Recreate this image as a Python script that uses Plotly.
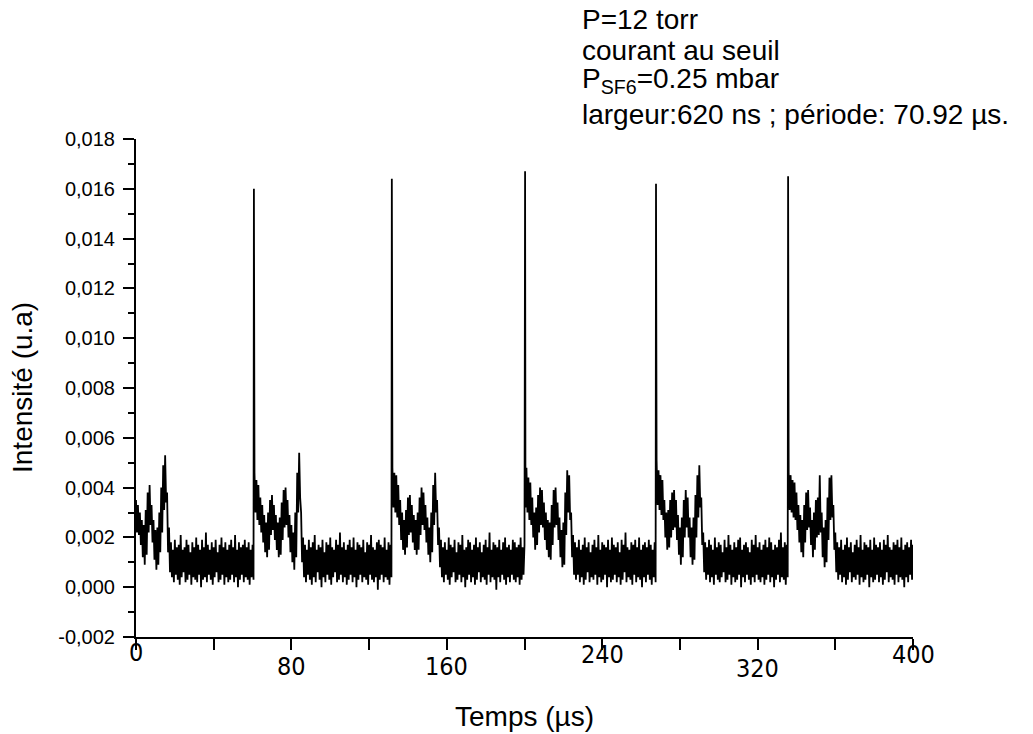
import plotly.graph_objects as go

# ---------------- data ----------------
# Signal sampled every 1 µs: upper / lower edge of the noisy trace, in units of 1e-4 (u.a)
sample_times = list(range(0, 401))

seg0_upper = [35, 33, 30, 27, 25, 31, 38, 41, 33, 27, 23, 24, 30, 40, 49, 53, 38, 24]            # t 0-17
seg0_lower = [22, 21, 17, 12, 9, 13, 22, 25, 18, 11, 7, 9, 14, 22, 31, 34, 14, 6]

base1_upper = [18, 15, 19, 16, 17, 21, 15, 16, 19, 17, 14, 18, 16, 20, 17, 15, 19, 16, 22, 17,
               15, 18, 16, 19, 14, 17, 20, 16, 18, 15, 17, 19, 16, 21, 15, 18, 16, 17, 19, 16,
               18, 15, 17]                                                                       # t 18-60
base1_lower = [4, 2, 5, 3, 1, 4, 6, 2, 3, 5, 1, 4, 3, 2, 5, 0, 3, 4, 2, 5,
               3, 1, 4, 6, 2, 3, 5, 1, 4, 2, 3, 5, 2, 4, 0, 3, 5, 2, 4, 3,
               1, 4, 3]

pulse1_upper = [46, 43, 41, 36, 33, 29, 26, 30, 35, 37, 33, 29, 26, 28, 34, 39, 40, 35, 29, 25,
                22, 30, 46, 54, 30]                                                              # t 61-85
pulse1_lower = [30, 27, 25, 22, 18, 14, 12, 15, 21, 23, 19, 15, 12, 13, 19, 24, 25, 20, 14, 10,
                7, 12, 30, 36, 10]

base2_upper = [20, 17, 15, 19, 16, 18, 21, 15, 17, 16, 19, 14, 18, 17, 20, 16, 15, 19, 17, 22,
               16, 18, 15, 17, 19, 16, 20, 15, 18, 17, 16, 19, 14, 18, 17, 21, 16, 15, 18, 19,
               17, 16, 20, 15, 18, 17]                                                           # t 86-131
base2_lower = [4, 2, 5, 3, 1, 4, 2, 6, 3, 0, 4, 2, 5, 3, 1, 4, 6, 2, 3, 5,
               2, 4, 1, 3, 5, 2, 4, 0, 3, 5, 2, 4, 3, 1, 5, 3, 2, 4, -1, 3,
               5, 2, 4, 3, 1, 4]

pulse2_upper = [48, 46, 45, 41, 35, 30, 27, 31, 36, 37, 33, 29, 27, 30, 36, 40, 38, 33, 28, 24,
                30, 41, 46, 35, 24]                                                              # t 132-156
pulse2_lower = [32, 30, 28, 25, 19, 15, 13, 16, 21, 22, 18, 15, 13, 15, 21, 25, 23, 18, 13, 10,
                14, 25, 30, 17, 8]

base3_upper = [19, 16, 18, 15, 20, 17, 16, 19, 14, 18, 17, 21, 15, 16, 19, 18, 15, 17, 20, 16,
               18, 14, 17, 19, 16, 22, 15, 18, 17, 16, 19, 15, 18, 20, 16, 17, 15, 19, 18, 16,
               17, 20, 16]                                                                       # t 157-199
base3_lower = [4, 2, 5, 3, 1, 4, 6, 2, 3, 5, 2, 4, 0, 3, 5, 2, 4, 1, 3, 6,
               2, 4, 3, 1, 5, 2, 4, 3, -1, 4, 2, 5, 3, 1, 4, 2, 5, 3, 2, 4,
               1, 3, 5]

pulse3_upper = [17, 48, 44, 42, 36, 30, 32, 37, 40, 39, 34, 30, 27, 26, 33, 39, 40, 34, 28, 23,
                26, 38, 47, 45, 30, 21]                                                          # t 200-225
pulse3_lower = [32, 30, 27, 25, 20, 15, 17, 22, 25, 24, 19, 15, 12, 11, 17, 24, 25, 19, 12, 8,
                9, 21, 30, 27, 12, 5]

base4_upper = [18, 16, 19, 15, 17, 20, 16, 18, 14, 17, 19, 16, 21, 15, 18, 17, 16, 19, 15, 20,
               17, 16, 18, 14, 19, 17, 22, 16, 15, 18, 17, 19, 16, 20, 15, 17, 18, 16, 19, 17,
               15, 18]                                                                           # t 226-267
base4_lower = [3, 5, 2, 4, 1, 3, 6, 2, 4, 3, 5, 1, 4, 2, 3, 5, 0, 4, 2, 3,
               5, 2, 4, 1, 3, 6, 2, 4, 3, 1, 5, 2, 4, 3, 0, 4, 2, 5, 3, 1,
               4, 2]

pulse4_upper = [51, 47, 45, 43, 35, 30, 31, 35, 38, 39, 35, 29, 24, 28, 35, 39, 36, 28, 24, 28,
                37, 45, 49, 36, 22]                                                              # t 268-292
pulse4_lower = [33, 31, 29, 27, 20, 15, 16, 20, 23, 24, 19, 13, 9, 12, 20, 24, 20, 12, 9, 11,
                20, 28, 32, 17, 6]

base5_upper = [18, 16, 19, 17, 15, 20, 16, 18, 17, 14, 19, 16, 21, 17, 15, 18, 16, 19, 20, 15,
               17, 18, 16, 14, 19, 17, 21, 16, 18, 15, 17, 19, 16, 20, 18, 15, 17, 16, 19, 22,
               16, 18, 17]                                                                       # t 293-335
base5_lower = [3, 5, 2, 4, 1, 5, 3, 2, 4, 6, 2, 3, 5, 1, 4, 2, 3, 5, 0, 4,
               2, 5, 3, 1, 4, 2, 5, 3, 2, 4, 1, 3, 5, 2, 4, 0, 3, 5, 2, 4,
               3, 1, 4]

pulse5_upper = [46, 45, 43, 42, 38, 33, 29, 27, 33, 38, 39, 32, 27, 30, 35, 36, 45, 30, 24, 27,
                36, 44, 45, 33, 22]                                                              # t 336-360
pulse5_lower = [31, 30, 28, 27, 23, 18, 14, 12, 18, 23, 24, 17, 12, 15, 20, 21, 22, 12, 8, 10,
                19, 27, 28, 15, 6]

base6_upper = [18, 16, 19, 15, 17, 20, 16, 18, 14, 17, 19, 16, 21, 15, 18, 17, 16, 19, 15, 20,
               17, 16, 18, 15, 19, 17, 21, 16, 15, 18, 17, 19, 16, 20, 15, 17, 18, 16, 19, 17]  # t 361-400
base6_lower = [3, 5, 2, 4, 1, 3, 6, 2, 4, 3, 5, 1, 4, 2, 3, 5, 0, 4, 2, 3,
               5, 2, 4, 1, 3, 6, 2, 4, 3, 1, 5, 2, 4, 3, 0, 4, 2, 5, 3, 2]

# Sharp laser pulses (time in µs, intensity in u.a)
spike_times = [60.7, 131.7, 200.3, 267.7, 335.7]
spike_values = [0.0160, 0.0164, 0.0167, 0.0162, 0.0165]

# Axis ticks
x_tick_vals = [0, 40, 80, 120, 160, 200, 240, 280, 320, 360, 400]
x_label_vals = [0, 80, 160, 240, 320, 400]
x_label_text = ["0", "80", "160", "240", "320", "400"]
y_tick_vals = [-0.002, 0.0, 0.002, 0.004, 0.006, 0.008, 0.010, 0.012, 0.014, 0.016, 0.018]
y_tick_text = ["-0,002", "0,000", "0,002", "0,004", "0,006", "0,008", "0,010",
               "0,012", "0,014", "0,016", "0,018"]
y_minor_vals = [-0.001, 0.001, 0.003, 0.005, 0.007, 0.009, 0.011, 0.013, 0.015, 0.017]

info_lines = ["P=12 torr", "courant au seuil", "P<sub>SF6</sub>=0.25 mbar",
              "largeur:620 ns ; période: 70.92 µs."]

# ---------------- build trace ----------------
upper = (seg0_upper + base1_upper + pulse1_upper + base2_upper + pulse2_upper + base3_upper
         + pulse3_upper + base4_upper + pulse4_upper + base5_upper + pulse5_upper + base6_upper)
lower = (seg0_lower + base1_lower + pulse1_lower + base2_lower + pulse2_lower + base3_lower
         + pulse3_lower + base4_lower + pulse4_lower + base5_lower + pulse5_lower + base6_lower)
assert len(upper) == len(sample_times) == len(lower)

pts = []
for t, u, l in zip(sample_times, upper, lower):
    pts.append((t, u * 1e-4))
    pts.append((t + 0.5, l * 1e-4))
pts += list(zip(spike_times, spike_values))
pts.sort(key=lambda p: p[0])
xs = [p[0] for p in pts]
ys = [p[1] for p in pts]

FONT = "Arial, Liberation Sans, sans-serif"
NARROW = "Liberation Sans Narrow, Arial Narrow, DejaVu Sans Condensed, Liberation Sans, sans-serif"

fig = go.Figure()
fig.add_trace(go.Scatter(x=xs, y=ys, mode="lines",
                         line=dict(color="black", width=1.8), showlegend=False,
                         hoverinfo="skip"))

fig.update_layout(
    width=1033, height=734,
    margin=dict(l=136, r=120, t=139, b=97),
    paper_bgcolor="white", plot_bgcolor="white",
    font=dict(family=FONT, color="black"),
    xaxis=dict(range=[0, 400], showline=True, linecolor="black", linewidth=2,
               ticks="outside", tickmode="array", tickvals=x_tick_vals,
               ticklen=11, tickwidth=2, tickcolor="black",
               showticklabels=False, showgrid=False, zeroline=False),
    yaxis=dict(range=[-0.002, 0.018], showline=True, linecolor="black", linewidth=2,
               ticks="outside", tickmode="array", tickvals=y_tick_vals, ticktext=y_tick_text,
               ticklen=11, tickwidth=2, tickcolor="black",
               tickfont=dict(size=20, family=FONT, color="black"),
               ticklabelstandoff=4,
               minor=dict(tickmode="array", tickvals=y_minor_vals, ticks="outside",
                          ticklen=6, tickwidth=2, tickcolor="black", showgrid=False),
               showgrid=False, zeroline=False),
)

# staggered x tick labels (as in the original)
x_label_shift = [-15, -29, -29, -17, -31, -17]
for v, txt, dy in zip(x_label_vals, x_label_text, x_label_shift):
    fig.add_annotation(x=v, xref="x", y=0, yref="paper", yshift=dy, yanchor="middle",
                       text=txt, showarrow=False, font=dict(size=25, family=NARROW))

# axis titles
fig.add_annotation(x=0.5, xref="paper", y=0, yref="paper", yshift=-79, yanchor="middle",
                   text="Temps (µs)", showarrow=False, font=dict(size=28))
fig.add_annotation(x=0, xref="paper", xshift=-114, xanchor="center", y=0.5, yref="paper",
                   text="Intensité (u.a)", textangle=-90, showarrow=False, font=dict(size=28))

# info text top right
info_y = [19, 50, 80, 114]
for txt, yy in zip(info_lines, info_y):
    fig.add_annotation(x=(580 - 136) / 777, xref="paper", xanchor="left",
                       y=1, yref="paper", yshift=139 - yy, yanchor="middle",
                       text=txt, showarrow=False, align="left", font=dict(size=28))

fig.write_html("out.html")
